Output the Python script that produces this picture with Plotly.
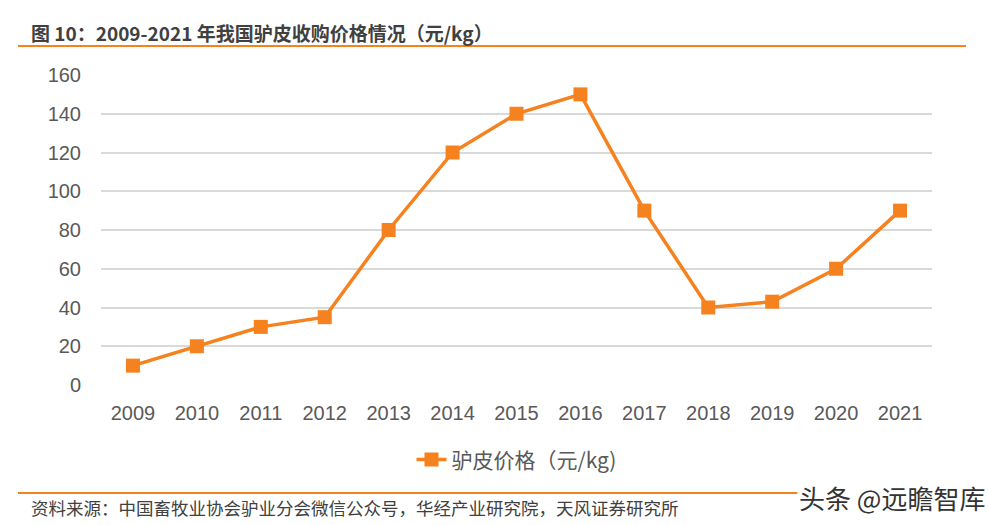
import plotly.graph_objects as go

years = ["2009", "2010", "2011", "2012", "2013", "2014", "2015", "2016", "2017", "2018", "2019", "2020", "2021"]
price = [10, 20, 30, 35, 80, 120, 140, 150, 90, 40, 43, 60, 90]
series_name = "驴皮价格（元/kg)"
y_ticks = [0, 20, 40, 60, 80, 100, 120, 140, 160]

ORANGE = "#F5821F"
FONT = "Noto Sans CJK SC"
W = 831.0
H = 310.0

fig = go.Figure()
fig.add_trace(go.Scatter(
    x=years, y=price, name=series_name, mode="lines+markers",
    line=dict(color=ORANGE, width=3.5),
    marker=dict(symbol="square", size=14, color=ORANGE),
))

fig.update_layout(
    width=988, height=525,
    margin=dict(l=101, r=56, t=75, b=140),
    paper_bgcolor="white", plot_bgcolor="white",
    font=dict(family=FONT, color="#595959"),
    showlegend=True,
    legend=dict(orientation="h", x=0.5, xanchor="center", y=-0.175, yanchor="top",
                font=dict(size=21, color="#595959", family=FONT)),
    xaxis=dict(type="category", range=[-0.5, 12.5], showgrid=False, zeroline=False, showline=False,
               ticks="", ticklabelstandoff=14,
               tickfont=dict(size=20, color="#595959", family="Liberation Sans")),
    yaxis=dict(range=[0, 160], tickvals=y_ticks, showgrid=True, gridcolor="#D9D9D9",
               gridwidth=1.5, zeroline=False, showline=False, ticks="",
               ticklabelstandoff=19,
               tickfont=dict(size=20, color="#595959", family="Liberation Sans")),
)

fig.add_shape(type="line", xref="paper", yref="paper",
              x0=(18-101)/W, x1=(966-101)/W, y0=1 + (75-46)/H, y1=1 + (75-46)/H,
              line=dict(color=ORANGE, width=2))
fig.add_shape(type="line", xref="paper", yref="paper",
              x0=(18-101)/W, x1=(966-101)/W, y0=-(493-385)/H, y1=-(493-385)/H,
              line=dict(color=ORANGE, width=2))

fig.add_annotation(xref="paper", yref="paper", x=(29-101)/W, y=1 + (75-32)/H,
                   xanchor="left", yanchor="middle", showarrow=False,
                   text="<b>图 10：2009-2021 年我国驴皮收购价格情况（元/kg）</b>",
                   font=dict(size=19, color="#404040", family=FONT))
fig.add_annotation(xref="paper", yref="paper", x=(29-101)/W, y=-(507-385)/H,
                   xanchor="left", yanchor="middle", showarrow=False,
                   text="资料来源：中国畜牧业协会驴业分会微信公众号，华经产业研究院，天风证券研究所",
                   font=dict(size=17.5, color="#404040", family=FONT))
fig.add_annotation(xref="paper", yref="paper", x=(987-101)/W, y=-(497-385)/H,
                   xanchor="right", yanchor="middle", showarrow=False,
                   text="头条 @远瞻智库", bgcolor="white",
                   font=dict(size=26, color="#333333", family=FONT))

fig.write_html("out.html")
